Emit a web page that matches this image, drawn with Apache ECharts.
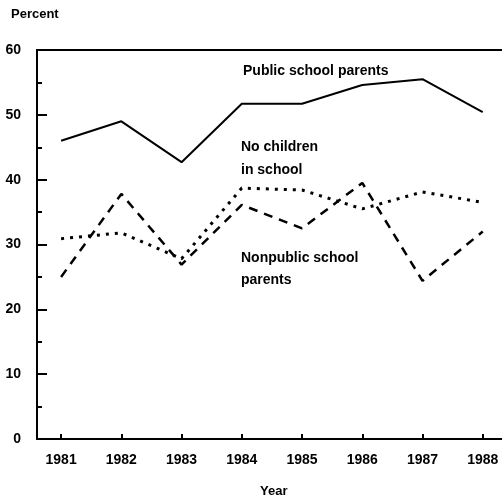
<!DOCTYPE html>
<html>
<head>
<meta charset="utf-8">
<script src="https://cdn.jsdelivr.net/npm/echarts@6/dist/echarts.min.js"></script>
<style>
    html, body { margin: 0; padding: 0; background: #fff; }
    #main { width: 502px; height: 501px; }
</style>
</head>
<body>
<div id="main"></div>
<script>
/*---------------------------------------------------------------------
 数据
---------------------------------------------------------------------*/
let years = [1981, 1982, 1983, 1984, 1985, 1986, 1987, 1988];
let yearLabels = ['1981', '1982', '1983', '1984', '1985', '1986', '1987', '1988'];
let publicParents = [46.0, 49.0, 42.7, 51.7, 51.7, 54.6, 55.5, 50.4];
let noChildren = [30.9, 31.8, 27.8, 38.7, 38.4, 35.5, 38.1, 36.5];
let nonpublicParents = [25.0, 37.8, 26.9, 36.1, 32.5, 39.5, 24.4, 32.0];
let yTicks = [0, 10, 20, 30, 40, 50, 60];

function pairs(values) {
    return years.map(function (y, i) { return [y, values[i]]; });
}

let font = 'Liberation Sans, Arial, sans-serif';
let myChart = echarts.init(document.getElementById('main'));

let option = {
    animation: false,
    backgroundColor: '#fff',
    grid: { left: 37, right: 0, top: 50, bottom: 62 },
    xAxis: [{
        type: 'value',
        min: 1980.6,
        max: 1988.32,
        splitLine: { show: false },
        axisLine: { lineStyle: { color: '#000', width: 2 } },
        axisTick: {
            inside: true, length: 5,
            customValues: years,
            lineStyle: { color: '#000', width: 2 }
        },
        axisLabel: {
            customValues: years,
            margin: 14,
            color: '#000',
            fontSize: 14,
            fontWeight: 'bold',
            fontFamily: font,
            formatter: function (v) {
                let i = years.indexOf(Math.round(v));
                return i >= 0 ? yearLabels[i] : '';
            }
        }
    }, {
        // 上边框
        type: 'value',
        position: 'top',
        min: 1980.6,
        max: 1988.32,
        splitLine: { show: false },
        axisLine: { show: true, lineStyle: { color: '#000', width: 2 } },
        axisTick: { show: false },
        axisLabel: { show: false }
    }],
    yAxis: {
        type: 'value',
        min: 0,
        max: 60,
        interval: 10,
        splitLine: { show: false },
        axisLine: { show: true, lineStyle: { color: '#000', width: 2 } },
        axisTick: { inside: true, length: 10, lineStyle: { color: '#000', width: 2 } },
        minorTick: { show: true, splitNumber: 2, length: 5, lineStyle: { color: '#000', width: 2 } },
        axisLabel: {
            margin: 16,
            color: '#000',
            fontSize: 14,
            fontWeight: 'bold',
            fontFamily: font,
            formatter: function (v) { return yTicks.indexOf(v) >= 0 ? String(v) : ''; }
        }
    },
    graphic: [
        { type: 'text', left: 11, top: 8, style: { text: 'Percent', font: 'bold 13px ' + font, fill: '#000' } },
        { type: 'text', left: 260, top: 485, style: { text: 'Year', font: 'bold 13px ' + font, fill: '#000' } },
        { type: 'text', left: 243, top: 64, style: { text: 'Public school parents', font: 'bold 14px ' + font, fill: '#000' } },
        { type: 'text', left: 241, top: 136, style: { text: 'No children\nin school', font: 'bold 14px ' + font, lineHeight: 23, fill: '#000' } },
        { type: 'text', left: 241, top: 247, style: { text: 'Nonpublic school\nparents', font: 'bold 14px ' + font, lineHeight: 22, fill: '#000' } }
    ],
    series: [{
        name: 'Public school parents',
        type: 'line',
        symbol: 'none',
        data: pairs(publicParents),
        lineStyle: { color: '#000', width: 2 }
    }, {
        name: 'No children in school',
        type: 'line',
        symbol: 'none',
        data: pairs(noChildren),
        lineStyle: { color: '#000', width: 3, type: [3, 6], cap: 'butt' }
    }, {
        name: 'Nonpublic school parents',
        type: 'line',
        symbol: 'none',
        data: pairs(nonpublicParents),
        lineStyle: { color: '#000', width: 2.5, type: [9, 7], cap: 'butt' }
    }]
};
myChart.setOption(option);
</script>
</body>
</html>
